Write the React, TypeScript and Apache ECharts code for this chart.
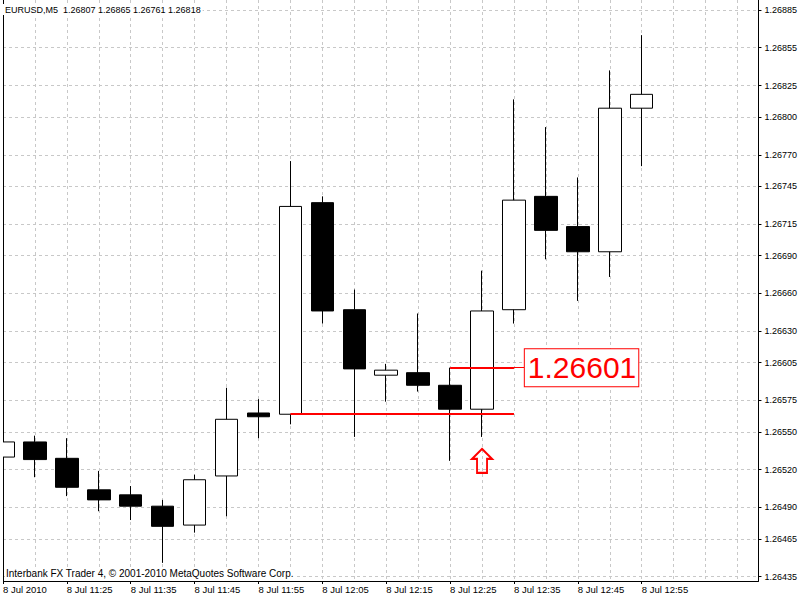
import React, { useEffect, useRef } from 'react';
import * as echarts from 'echarts';

const symbolName = 'EURUSD,M5';
const dateLabel = '8 Jul 2010';
const dayLabel = '8 Jul';
const copyright = 'Interbank FX Trader 4, © 2001-2010 MetaQuotes Software Corp.';

const times = ['11:15', '11:20', '11:25', '11:30', '11:35', '11:40', '11:45', '11:50', '11:55', '12:00', '12:05',
  '12:10', '12:15', '12:20', '12:25', '12:30', '12:35', '12:40', '12:45', '12:50', '12:55'];
const opens = [1.26530, 1.26542, 1.26529, 1.26504, 1.26500, 1.26491, 1.26476, 1.26515, 1.26565, 1.26564, 1.26732,
  1.26647, 1.26595, 1.26597, 1.26587, 1.26568, 1.26647, 1.26737, 1.26713, 1.26693, 1.26807];
const closes = [1.26542, 1.26528, 1.26506, 1.26496, 1.26491, 1.26475, 1.26512, 1.26560, 1.26562, 1.26729, 1.26646,
  1.26600, 1.26599, 1.26587, 1.26568, 1.26646, 1.26734, 1.26710, 1.26693, 1.26807, 1.26818];
const lows = [1.26504, 1.26514, 1.26499, 1.26487, 1.26480, 1.26446, 1.26470, 1.26483, 1.26545, 1.26556, 1.26636,
  1.26546, 1.26574, 1.26582, 1.26527, 1.26546, 1.26636, 1.26687, 1.26654, 1.26673, 1.26761];
const highs = [1.26568, 1.26547, 1.26545, 1.26519, 1.26507, 1.26496, 1.26516, 1.26585, 1.26576, 1.26765, 1.26737,
  1.26663, 1.26604, 1.26644, 1.26601, 1.26678, 1.26814, 1.26792, 1.26752, 1.26837, 1.26865];

const priceTicks = [1.26885, 1.26855, 1.26825, 1.26800, 1.26770, 1.26745, 1.26715, 1.26690, 1.26660, 1.26630,
  1.26605, 1.26575, 1.26550, 1.26520, 1.26490, 1.26465, 1.26435];
const timeTickIdx = [0, 2, 4, 6, 8, 10, 12, 14, 16, 18, 20];

// annotation anchors (candle indices)
const lowerFrom = 9;
const upperFrom = 14;
const lineTo = 16;
const arrowAt = 15;

const Y_MIN = 1.264316;
const Y_MAX = 1.268929;
const X_MAX = 23.656;

const FONT = '"Liberation Sans", Arial, sans-serif';
const GRID_COLOR = '#c8c8c8';
const RED = '#ff0000';

export default function App() {
  const ref = useRef<HTMLDivElement>(null);

  useEffect(() => {
    if (!ref.current) return;
    const chart = echarts.init(ref.current, undefined, { renderer: 'svg' });
    const last = times.length - 1;
    const lowerLevel = opens[lowerFrom];
    const upperLevel = highs[upperFrom];
    const lastClose = closes[last];
    const titleText = `${symbolName}  ${opens[last].toFixed(5)} ${highs[last].toFixed(5)} ${lows[last].toFixed(5)} ${closes[last].toFixed(5)}`;

    const candles = times.map((_, i) => [i, opens[i], closes[i], lows[i], highs[i]]);

    chart.setOption({
      animation: false,
      backgroundColor: '#ffffff',
      title: {
        text: titleText,
        left: 3,
        top: 4,
        padding: [1, 2, 1, 2],
        backgroundColor: '#ffffff',
        textStyle: { fontSize: 9, fontWeight: 'normal', color: '#000', fontFamily: FONT },
      },
      grid: { left: 3, right: 40, top: 0, bottom: 19 },
      xAxis: [
        {
          type: 'value',
          min: 0,
          max: X_MAX,
          interval: 1,
          position: 'bottom',
          axisLine: { show: true, onZero: false, lineStyle: { color: '#000', width: 1 } },
          axisTick: { show: false },
          axisLabel: { show: false },
          splitLine: { show: true, lineStyle: { color: GRID_COLOR, type: [3, 3], width: 1 } },
        },
        {
          type: 'value',
          min: 0,
          max: X_MAX,
          position: 'bottom',
          axisLine: { show: false, onZero: false },
          axisTick: { show: true, length: 3, customValues: timeTickIdx, lineStyle: { color: '#000' } },
          axisLabel: {
            show: true,
            customValues: timeTickIdx,
            align: 'left',
            margin: 3,
            fontSize: 9.5,
            fontFamily: FONT,
            color: '#000',
            formatter: (v: number) => {
              const i = Math.round(v);
              return i === 0 ? dateLabel : `${dayLabel} ${times[i]}`;
            },
          },
          splitLine: { show: false },
        },
      ],
      yAxis: [
        {
          type: 'value',
          position: 'right',
          min: Y_MIN,
          max: Y_MAX,
          scale: true,
          axisLine: { show: true, onZero: false, lineStyle: { color: '#000', width: 1 } },
          axisTick: { show: true, length: 3, customValues: priceTicks, lineStyle: { color: '#000' } },
          axisLabel: {
            show: true,
            customValues: priceTicks,
            margin: 6,
            fontSize: 9,
            fontFamily: FONT,
            color: '#000',
            verticalAlign: 'middle',
            padding: [0, 0, 7, 0],
            formatter: (v: number) => v.toFixed(5),
          },
          splitLine: { show: true, lineStyle: { color: GRID_COLOR, type: [3, 3], width: 1 } },
        },
        {
          type: 'value',
          position: 'left',
          min: Y_MIN,
          max: Y_MAX,
          scale: true,
          axisLine: { show: true, onZero: false, lineStyle: { color: '#000', width: 1 } },
          axisTick: { show: false },
          axisLabel: { show: false },
          splitLine: { show: false },
        },
      ],
      series: [
        {
          type: 'candlestick',
          xAxisIndex: 0,
          yAxisIndex: 0,
          data: candles,
          barWidth: 23,
          clip: true,
          itemStyle: {
            color: '#ffffff',
            color0: '#000000',
            borderColor: '#000000',
            borderColor0: '#000000',
            borderWidth: 1,
          },
        },
        {
          type: 'line',
          xAxisIndex: 0,
          yAxisIndex: 0,
          data: [],
          clip: false,
          symbol: 'none',
          z: 5,
          markLine: {
            silent: true,
            symbol: ['none', 'none'],
            label: { show: false },
            data: [
              [
                { coord: [lowerFrom, lowerLevel], lineStyle: { color: RED, width: 2, type: 'solid' } },
                { coord: [lineTo, lowerLevel] },
              ],
              [
                { coord: [upperFrom, upperLevel], lineStyle: { color: RED, width: 2, type: 'solid' } },
                { coord: [lineTo, upperLevel] },
              ],
              [
                {
                  coord: [lineTo, upperLevel],
                  lineStyle: { color: RED, width: 1, type: 'solid' },
                  label: {
                    show: true,
                    position: 'end',
                    distance: 0,
                    formatter: () => upperLevel.toFixed(5),
                    fontSize: 30,
                    fontFamily: FONT,
                    color: RED,
                    lineHeight: 34,
                    backgroundColor: '#ffffff',
                    borderColor: RED,
                    borderWidth: 1,
                    padding: [2, 2, 1, 3],
                  },
                },
                { coord: [lineTo + 0.34, upperLevel] },
              ],
              {
                yAxis: lastClose,
                lineStyle: { color: GRID_COLOR, width: 1, type: 'solid' },
                label: {
                  show: true,
                  position: 'end',
                  distance: 3,
                  formatter: () => lastClose.toFixed(5),
                  fontSize: 9,
                  fontFamily: FONT,
                  color: '#ffffff',
                  backgroundColor: '#000000',
                  lineHeight: 9,
                  padding: [1, 2, 1, 2],
                },
              },
            ],
          },
          markPoint: {
            silent: true,
            label: { show: false },
            data: [
              {
                coord: [arrowAt, lows[arrowAt]],
                symbol: 'path://M10 0 L20 10 L15 10 L15 24 L5 24 L5 10 L0 10 Z',
                symbolSize: [20, 24],
                symbolOffset: [0, 24],
                itemStyle: { color: 'rgba(0,0,0,0)', borderColor: RED, borderWidth: 2 },
              },
            ],
          },
        },
      ],
      graphic: [
        { type: 'rect', left: 0, top: 0, shape: { x: 0, y: 0, width: 3, height: 600 }, style: { fill: '#ffffff' }, z: 100, silent: true },
        {
          type: 'text',
          left: 5,
          top: 567,
          z: 100,
          silent: true,
          style: {
            text: copyright,
            fill: '#000',
            font: `10px ${FONT}`,
            backgroundColor: '#ffffff',
            padding: [1, 1, 1, 1],
          },
        },
      ],
    });

    return () => chart.dispose();
  }, []);

  return <div ref={ref} style={{ position: 'fixed', left: 0, top: 0, width: 800, height: 600 }} />;
}
